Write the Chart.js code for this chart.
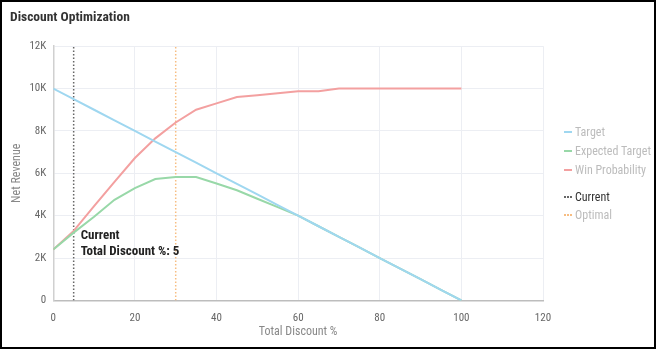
<!DOCTYPE html>
<html>
<head>
<meta charset="utf-8">
<script src="https://cdn.jsdelivr.net/npm/chart.js@4.4.1/dist/chart.umd.min.js"></script>
<style>
  html, body { margin: 0; padding: 0; background: #fff; }
  #wrap {
    position: relative;
    width: 656px; height: 349px;
    border: 2px solid #000;
    box-sizing: border-box;
    background: #fff;
  }
  #chart-canvas { display: block; }
  #legend {
    position: absolute;
    left: 562px; top: 0;
    font-family: 'Liberation Sans Narrow', 'Roboto Condensed', 'Liberation Sans', Arial, sans-serif;
    font-size: 12px;
    color: #bcbcbc;
  }
  .item { position: absolute; white-space: nowrap; line-height: 14px; }
  .mark { display: inline-block; width: 8px; height: 0; vertical-align: middle; margin-right: 3px; position: relative; top: -1px; }
</style>
</head>
<body>
<div id="wrap">
  <canvas id="chart-canvas" width="652" height="345"></canvas>
  <div id="legend"></div>
</div>
<script>
const FONT = "'Liberation Sans Narrow', 'Roboto Condensed', 'Liberation Sans', Arial, sans-serif";

// x values (Total Discount %)
const discount = [0, 5, 10, 15, 20, 25, 30, 35, 40, 45, 50, 55, 60, 65, 70, 75, 80, 85, 90, 95, 100];
// series (Net Revenue)
const target = [10000, 9500, 9000, 8500, 8000, 7500, 7000, 6500, 6000, 5500, 5000, 4500, 4000, 3500, 3000, 2500, 2000, 1500, 1000, 500, 0];
const expectedTarget = [2400, 3200, 3950, 4750, 5300, 5730, 5830, 5820, 5520, 5200, 4800, 4400, 4000, 3500, 3000, 2500, 2000, 1500, 1000, 500, 0];
const winProbability = [2400, 3280, 4450, 5600, 6720, 7650, 8400, 9000, 9300, 9600, 9680, 9780, 9870, 9870, 10000, 10000, 10000, 10000, 10000, 10000, 10000];

const currentDiscount = 5;
const optimalDiscount = 30;

const xTicks = [0, 20, 40, 60, 80, 100, 120];
const yTicks = [0, 2000, 4000, 6000, 8000, 10000, 12000];

const seriesNames = ['Target', 'Expected Target', 'Win Probability', 'Current', 'Optimal'];
const colors = ['#9fd7f0', '#98d8a8', '#f3a0a0', '#666666', '#f7bd82'];

function toPoints(values) {
    return discount.map((d, i) => ({ x: d, y: values[i] }));
}

function vline(x) {
    return [{ x: x, y: yTicks[0] }, { x: x, y: yTicks[yTicks.length - 1] }];
}

// label next to the "Current" line
const currentLabel = {
    id: 'currentLabel',
    afterDatasetsDraw(chart) {
        const { ctx, scales } = chart;
        const px = scales.x.getPixelForValue(currentDiscount) + 7;
        const idx = discount.indexOf(currentDiscount);
        const py = scales.y.getPixelForValue(winProbability[idx]);
        ctx.save();
        ctx.font = 'bold 13px ' + FONT;
        ctx.fillStyle = '#222';
        ctx.textBaseline = 'middle';
        ctx.fillText('Current', px, py + 5);
        ctx.fillText('Total Discount %: ' + currentDiscount, px, py + 21);
        ctx.restore();
    }
};

const ctx = document.getElementById('chart-canvas').getContext('2d');

const myChart = new Chart(ctx, {
    type: 'line',
    data: {
        datasets: [
            { label: seriesNames[0], data: toPoints(target), borderColor: colors[0], borderWidth: 2 },
            { label: seriesNames[1], data: toPoints(expectedTarget), borderColor: colors[1], borderWidth: 2 },
            { label: seriesNames[2], data: toPoints(winProbability), borderColor: colors[2], borderWidth: 2 },
            { label: seriesNames[3], data: vline(currentDiscount), borderColor: colors[3], borderWidth: 1.5, borderDash: [1.5, 2] },
            { label: seriesNames[4], data: vline(optimalDiscount), borderColor: colors[4], borderWidth: 1.5, borderDash: [1.5, 2] },
        ]
    },
    options: {
        responsive: false,
        animation: false,
        parsing: false,
        elements: {
            point: { radius: 0 },
            line: { tension: 0, fill: false }
        },
        layout: { padding: { left: 8, right: 111, bottom: 8 } },
        plugins: {
            legend: { display: false },
            tooltip: { enabled: false },
            title: {
                display: true,
                text: 'Discount Optimization',
                align: 'start',
                color: '#333',
                font: { family: FONT, size: 13.5, weight: 'bold' },
                padding: { top: 8, bottom: 20 }
            }
        },
        scales: {
            x: {
                type: 'linear',
                min: xTicks[0],
                max: xTicks[xTicks.length - 1],
                afterBuildTicks: (axis) => { axis.ticks = xTicks.map(v => ({ value: v })); },
                grid: { color: '#eceef3', drawTicks: false },
                border: { color: '#bdbdbd', width: 1.5 },
                ticks: { color: '#666', padding: 11, font: { family: FONT, size: 11 } },
                title: {
                    display: true,
                    text: 'Total Discount %',
                    color: '#888',
                    font: { family: FONT, size: 12 },
                    padding: { top: -11, bottom: 0 }
                }
            },
            y: {
                min: yTicks[0],
                max: yTicks[yTicks.length - 1],
                afterBuildTicks: (axis) => { axis.ticks = yTicks.map(v => ({ value: v })); },
                grid: { color: '#eceef3', drawTicks: false },
                border: { color: '#d0d0d0', width: 1.5 },
                ticks: {
                    color: '#666',
                    padding: 7,
                    font: { family: FONT, size: 11 },
                    callback: (v) => v === 0 ? '0' : (v / 1000) + 'K'
                },
                title: {
                    display: true,
                    text: 'Net Revenue',
                    color: '#888',
                    font: { family: FONT, size: 12 },
                    padding: { top: 0, bottom: -2 }
                }
            }
        }
    },
    plugins: [currentLabel]
});

// legend on the right, with a gap before the reference lines
const legendTops = [123, 142, 161, 188, 206];
const legendEl = document.getElementById('legend');
seriesNames.forEach((name, i) => {
    const item = document.createElement('div');
    item.className = 'item';
    item.style.top = legendTops[i] + 'px';
    const mark = document.createElement('span');
    mark.className = 'mark';
    mark.style.borderTop = (i >= 3 ? '2px dotted ' : '2px solid ') + colors[i];
    item.appendChild(mark);
    const txt = document.createElement('span');
    txt.textContent = name;
    if (name === 'Current') txt.style.color = '#333';
    item.appendChild(txt);
    legendEl.appendChild(item);
});
</script>
</body>
</html>
